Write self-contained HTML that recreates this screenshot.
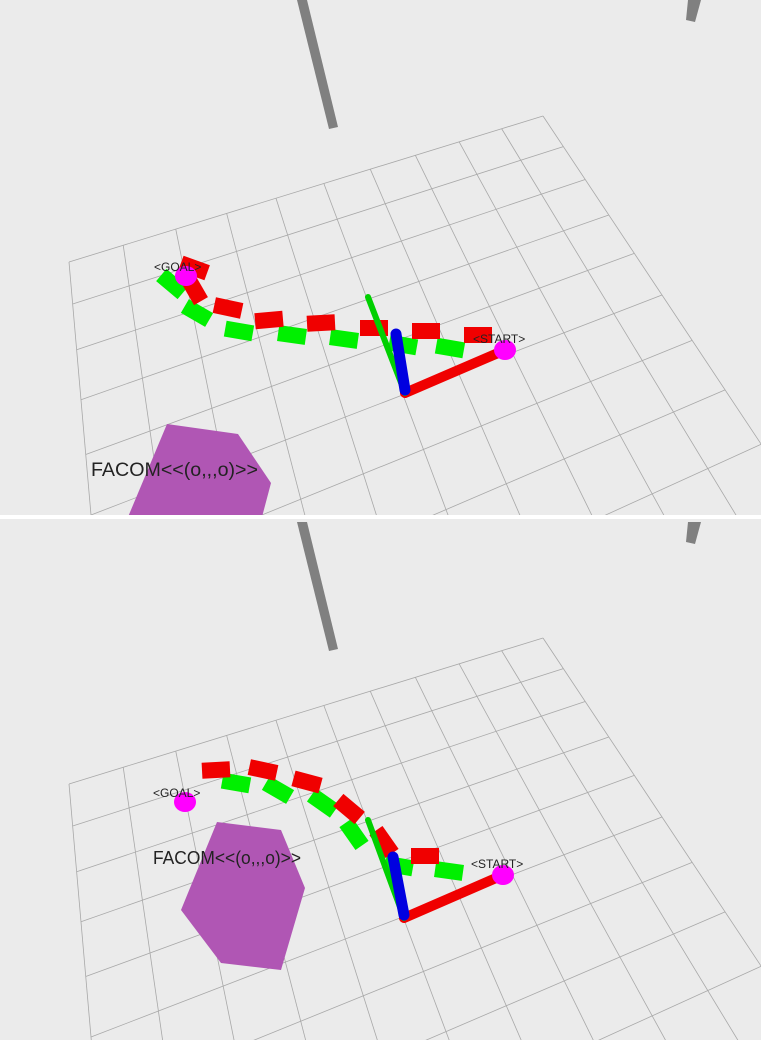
<!DOCTYPE html>
<html><head><meta charset="utf-8">
<style>
html,body{margin:0;padding:0;background:#fff;overflow:hidden;width:761px;height:1040px;}
svg{display:block;}
text{font-family:"Liberation Sans",sans-serif;fill:#222;}
</style></head>
<body>
<svg id="scene" width="761" height="1040" viewBox="0 0 761 1040" xmlns="http://www.w3.org/2000/svg">
<defs>
<clipPath id="clipTop"><rect x="0" y="0" width="761" height="515"/></clipPath>
<clipPath id="clipBot"><rect x="0" y="519" width="761" height="521"/></clipPath>
</defs>
<rect x="0" y="0" width="761" height="515" fill="#ebebeb"/>
<rect x="0" y="515" width="761" height="4" fill="#ffffff"/>
<rect x="0" y="519" width="761" height="521" fill="#ebebeb"/>
<g id="top" clip-path="url(#clipTop)"></g>
<g id="bot" clip-path="url(#clipBot)"></g>
</svg>
<script>
// grid dimensions (cells)
const gridCols = 10;
const gridRows = 12;
// top panel path poses [x, y, angleDeg]
const topRed = [[194,268,20],[194,289,60],[228,308,12],[269,320,-5],[321,323,-3],[374,328,0],[426,331,0],[478,335,0]];
const topGreen = [[172,284,40],[197,313,30],[239,331,10],[292,335,8],[344,339,8],[403,345,10],[450,348,10]];
const botRed = [[216,770,-3],[263,770,12],[307,782,15],[349,809,40],[384,842,55],[425,856,0]];
const botGreen = [[236,783,10],[278,790,30],[323,803,35],[354,834,55],[399,866,10],[449,871,8]];

const NS='http://www.w3.org/2000/svg';
function mk(tag, attrs, parent){const e=document.createElementNS(NS,tag);for(const k in attrs)e.setAttribute(k,attrs[k]);parent.appendChild(e);return e;}

function solve(A,b){const n=b.length;for(let i=0;i<n;i++){let m=i;for(let r=i+1;r<n;r++)if(Math.abs(A[r][i])>Math.abs(A[m][i]))m=r;[A[i],A[m]]=[A[m],A[i]];[b[i],b[m]]=[b[m],b[i]];for(let r=0;r<n;r++){if(r===i)continue;const f=A[r][i]/A[i][i];for(let c=i;c<n;c++)A[r][c]-=f*A[i][c];b[r]-=f*b[i];}}return b.map((v,i)=>v/A[i][i]);}
function homog(src,dst){const A=[],b=[];for(let i=0;i<4;i++){const [x,y]=src[i],[X,Y]=dst[i];A.push([x,y,1,0,0,0,-X*x,-X*y]);b.push(X);A.push([0,0,0,x,y,1,-Y*x,-Y*y]);b.push(Y);}const h=solve(A,b);return (u,v)=>{const w=h[6]*u+h[7]*v+1;return [(h[0]*u+h[1]*v+h[2])/w,(h[3]*u+h[4]*v+h[5])/w];};}

function drawPanel(g, dy, red, green, p){
  const H=homog([[0,0],[10,0],[0,5],[10,5]],[[69,262+dy],[543,116+dy],[91,515+dy],[662,295+dy]]);
  const grid=mk('g',{},g);
  
  
  for(let u=0;u<=gridCols;u++){const a=H(u,0),b=H(u,gridRows);const l=mk('line',{x1:a[0],y1:a[1],x2:b[0],y2:b[1],stroke:'#a8a8a8','stroke-width':0.8},grid);}
  for(let v=0;v<=gridRows;v++){const a=H(0,v),b=H(gridCols,v);const l=mk('line',{x1:a[0],y1:a[1],x2:b[0],y2:b[1],stroke:'#a8a8a8','stroke-width':0.8},grid);}
  let e=mk('polygon',{points:`297,${dy} 307,${dy} 338,${127+dy} 329,${129+dy}`,fill:'#808080'},g);
  
  e=mk('polygon',{points:`688,${dy} 701,${dy} 695,${22+dy} 686,${20+dy}`,fill:'#808080'},g);
  
  e=mk('polygon',{points:p.hex,fill:'#b056b4'},g);
  
  function box(x,y,a,col,name){const r=mk('rect',{x:x-14,y:y-8,width:28,height:16,fill:col,transform:`rotate(${a} ${x} ${y})`},g);}
  green.forEach(q=>box(q[0],q[1],q[2],'#00f000','path-marker-green'));
  red.forEach(q=>box(q[0],q[1],q[2],'#f00000','path-marker-red'));
  const o=p.origin;
  e=mk('line',{x1:o[0],y1:o[1],x2:p.start[0],y2:p.start[1],stroke:'#f00000','stroke-width':10,'stroke-linecap':'round'},g);
  
  e=mk('line',{x1:o[0],y1:o[1],x2:p.gy[0],y2:p.gy[1],stroke:'#00d000','stroke-width':6,'stroke-linecap':'round'},g);
  
  e=mk('line',{x1:o[0],y1:o[1]-3,x2:p.bz[0],y2:p.bz[1],stroke:'#0000e0','stroke-width':11,'stroke-linecap':'round'},g);
  
  e=mk('ellipse',{cx:p.start[0],cy:p.start[1],rx:11,ry:10,fill:'#ff00ff'},g);
  
  e=mk('ellipse',{cx:p.goal[0],cy:p.goal[1],rx:11,ry:10,fill:'#ff00ff'},g);
  
  e=mk('text',{x:p.goal[0]-32,y:p.goal[1]-5,'font-size':12},g);e.textContent='<GOAL>';
  
  e=mk('text',{x:p.start[0]-32,y:p.start[1]-7,'font-size':12},g);e.textContent='<START>';
  
  e=mk('text',{x:p.facom[0],y:p.facom[1],'font-size':p.fs,textLength:p.fw,lengthAdjust:'spacingAndGlyphs'},g);e.textContent='FACOM<<(o,,,o)>>';
  
}
drawPanel(document.getElementById('top'),0,topRed,topGreen,{
  hex:'167,424 238,434 271,483 262,517 128,517',
  origin:[405,393],start:[505,350],gy:[368,297],bz:[396,334],goal:[186,276],facom:[91,476],fs:19,fw:167});
drawPanel(document.getElementById('bot'),522,botRed,botGreen,{
  hex:'217,822 281,830 305,888 281,970 221,963 181,910',
  origin:[404,918],start:[503,875],gy:[368,820],bz:[393,857],goal:[185,802],facom:[153,864],fs:18,fw:148});
</script>
</body></html>
